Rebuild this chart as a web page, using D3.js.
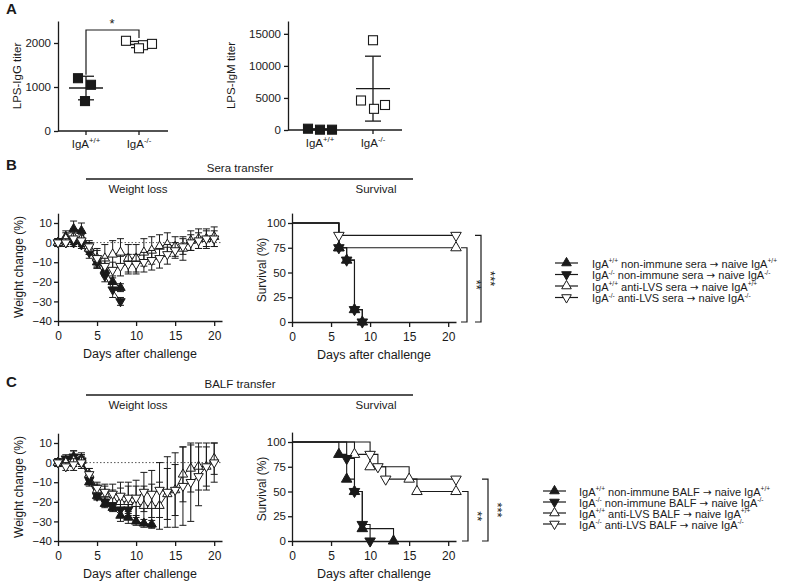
<!DOCTYPE html>
<html><head><meta charset="utf-8">
<script src="https://cdn.jsdelivr.net/npm/d3@7"></script>
<style>body{margin:0;background:#fff} text{font-family:"Liberation Sans",Arial,sans-serif;fill:#1a1a1a}</style>
</head><body><script>
// ---------------- DATA ----------------
const aGroups = ["IgA^{+/+}", "IgA^{-/-}"];
const lpsIgG_wt = [1200, 1050, 680];
const lpsIgG_ko = [2050, 1950, 1880, 1980];
const lpsIgM_wt = [200, 50, 50];
const lpsIgM_ko = [14000, 4600, 3300, 3900];
const igGTicks = [0, 1000, 2000];
const igMTicks = [0, 5000, 10000, 15000];
const dayTicks = [0, 5, 10, 15, 20];
const weightTicks = [10, 0, -10, -20, -30, -40];
const survTicks = [0, 25, 50, 75, 100];
const days = [0,1,2,3,4,5,6,7,8,9,10,11,12,13,14,15,16,17,18,19,20];

// Panel B weight (sera transfer)
const bWt_wtNon = [0, 3, 7, 6, -3, -10, -14, -20, -23];
const bSd_wtNon = [2, 3, 4, 4, 3, 3, 3, 3, 2];
const bWt_koNon = [0, 0, 0, -1, -5, -10, -17, -24, -30];
const bSd_koNon = [2, 2, 2, 2, 3, 3, 3, 4, 2];
const bWt_wtLVS = [0, 2, 3, 2, -3, -8, -8, -6, -5, -8, -8, -5, -4, -2, -1, -2, -3, 1, 2, 2, 3];
const bSd_wtLVS = [2, 3, 4, 4, 3, 5, 7, 7, 7, 7, 7, 7, 7, 6, 6, 5, 6, 5, 5, 5, 5];
const bWt_koLVS = [0, 0, 2, 1, -2, -8, -12, -14, -12, -11, -11, -10, -9, -8, -6, -4, -2, 0, 1, 2, 2];
const bSd_koLVS = [2, 2, 3, 3, 3, 4, 4, 4, 5, 5, 5, 5, 5, 5, 5, 4, 4, 4, 4, 4, 4];

// Panel B survival
const bSurvDays_wtNon = [0, 6, 7, 8, 9];
const bSurvPct_wtNon = [100, 75, 62.5, 12.5, 0];
const bSurvDays_koNon = [0, 6, 7, 8, 9];
const bSurvPct_koNon = [100, 75, 62.5, 12.5, 0];
const bSurvDays_wtLVS = [0, 6];
const bSurvPct_wtLVS = [100, 75];
const bSurvDays_koLVS = [0, 6];
const bSurvPct_koLVS = [100, 87.5];

// Panel C weight (BALF transfer)
const cWt_wtNon = [0, 1, 3, 2, -10, -17, -21, -23, -27, -28, -30, -31, -31.5];
const cSd_wtNon = [2, 2, 3, 3, 2, 2, 2, 2, 3, 3, 2, 2, 2];
const cWt_koNon = [0, 2, 3, 1, -9, -17, -20, -22, -24, -24];
const cSd_koNon = [2, 2, 3, 3, 2, 2, 2, 2, 3, 3];
const cWt_wtLVS = [0, 0, 1, 1, -6, -14, -16, -19, -20, -20, -21, -22, -22, -22, -16, -14, -6, -3, -2, -2, 2];
const cSd_wtLVS = [2, 2, 3, 3, 3, 3, 4, 5, 7, 8, 9, 10, 11, 12, 13, 13, 14, 12, 12, 10, 8];
const cWt_koLVS = [0, -2, -1, 0, -6, -13, -15, -16, -17, -18, -18, -15, -16, -14, -15, -14, -12, -10, -7, -2, 0];
const cSd_koLVS = [2, 2, 3, 3, 3, 3, 4, 5, 7, 8, 9, 10, 12, 14, 18, 19, 20, 20, 15, 12, 10];

// Panel C survival
const cSurvDays_wtNon = [0, 6, 7, 8, 9, 13];
const cSurvPct_wtNon = [100, 87.5, 62.5, 50, 12.5, 0];
const cSurvDays_koNon = [0, 7, 8, 9, 10];
const cSurvPct_koNon = [100, 83.3, 50, 16.7, 0];
const cSurvDays_wtLVS = [0, 8, 10, 15, 16];
const cSurvPct_wtLVS = [100, 87.5, 75, 62.5, 50];
const cSurvDays_koLVS = [0, 10, 11, 12];
const cSurvPct_koLVS = [100, 87.5, 75, 62.5];
const survEndDay = 21;

const legendB = [
  "IgA^{+/+} non-immune sera \u2192 naive IgA^{+/+}",
  "IgA^{-/-} non-immune sera \u2192 naive IgA^{-/-}",
  "IgA^{+/+} anti-LVS sera \u2192 naive IgA^{+/+}",
  "IgA^{-/-} anti-LVS sera \u2192 naive IgA^{-/-}"];
const legendC = [
  "IgA^{+/+} non-immune BALF \u2192 naive IgA^{+/+}",
  "IgA^{-/-} non-immune BALF \u2192 naive IgA^{-/-}",
  "IgA^{+/+} anti-LVS BALF \u2192 naive IgA^{+/+}",
  "IgA^{-/-} anti-LVS BALF \u2192 naive IgA^{-/-}"];

// ---------------- DRAWING ----------------
const INK = "#1a1a1a";
const svg = d3.select("body").append("svg").attr("width", 800).attr("height", 585);

function richText(g, x, y, str, size, anchor, supScale, supShift) {
  const ss = supScale || 0.68, sh = supShift || 0.38;
  const t = g.append("text").attr("x", x).attr("y", y).attr("font-size", size)
    .attr("text-anchor", anchor || "start").attr("dominant-baseline", "middle");
  const parts = str.split(/(\^\{[^}]*\}|\u2192)/).filter(s => s.length);
  let up = false;
  parts.forEach(p => {
    if (p.startsWith("^{")) {
      t.append("tspan").attr("font-size", size * ss).attr("dy", -size * sh).text(p.slice(2, -1));
      up = true;
    } else {
      const ts = t.append("tspan").text(p);
      if (p === "\u2192") ts.attr("font-family", "DejaVu Sans").attr("font-size", size * 0.95);
      if (up) { ts.attr("dy", size * sh); up = false; }
    }
  });
  return t;
}

function styleAxis(sel, fs) {
  sel.selectAll("path.domain").attr("stroke", INK).attr("stroke-width", 1.3);
  sel.selectAll(".tick line").attr("stroke", INK).attr("stroke-width", 1.3);
  sel.selectAll(".tick text").attr("font-size", fs || 11.5).attr("fill", INK)
     .attr("font-family", "Liberation Sans, Arial, sans-serif");
}

const symUp = d3.symbol().type(d3.symbolTriangle);
function marker(g, x, y, type, size) {
  const filled = type === "fu" || type === "fd";
  const down = type === "fd" || type === "od";
  g.append("path").attr("d", symUp.size(size)())
    .attr("transform", `translate(${x},${y})` + (down ? " rotate(180)" : ""))
    .attr("fill", filled ? INK : "#fff").attr("stroke", INK).attr("stroke-width", 1);
}

function panelLetter(x, y, s) {
  svg.append("text").attr("x", x).attr("y", y).attr("font-size", 15).attr("font-weight", "bold")
    .attr("dominant-baseline", "middle").text(s);
}

// ----- Panel A -----
panelLetter(6, 10, "A");

function scatterPanel(opts) {
  const g = svg.append("g");
  const y = d3.scaleLinear().domain([0, opts.ymax]).range([opts.y0, opts.ytop]);
  const ya = g.append("g").attr("transform", `translate(${opts.x0},0)`)
    .call(d3.axisLeft(y).tickValues(opts.ticks).tickSize(4).tickPadding(3).tickSizeOuter(0).tickFormat(d3.format("d")));
  styleAxis(ya, 11.5);
  g.append("line").attr("x1", opts.x0).attr("x2", opts.x1).attr("y1", opts.y0).attr("y2", opts.y0)
    .attr("stroke", INK).attr("stroke-width", 1.3);
  aGroups.forEach((k, i) => {
    const cx = opts.cx[i];
    g.append("line").attr("x1", cx).attr("x2", cx).attr("y1", opts.y0).attr("y2", opts.y0 + 4)
      .attr("stroke", INK).attr("stroke-width", 1.3);
    richText(g, cx, opts.y0 + 14, k, 11.5, "middle");
  });
  g.append("text").attr("transform", `translate(${opts.titleX},${(opts.y0 + opts.ytop) / 2}) rotate(-90)`)
    .attr("text-anchor", "middle").attr("dominant-baseline", "middle").attr("font-size", 11.5).text(opts.title);
  [opts.wt, opts.ko].forEach((vals, gi) => {
    const cx = opts.cx[gi];
    const m = d3.mean(vals), sd = d3.deviation(vals);
    g.append("line").attr("x1", cx - 17).attr("x2", cx + 17).attr("y1", y(m)).attr("y2", y(m)).attr("stroke", INK).attr("stroke-width", 1.4);
    g.append("line").attr("x1", cx).attr("x2", cx).attr("y1", y(m + sd)).attr("y2", y(Math.max(m - sd, 0))).attr("stroke", INK).attr("stroke-width", 1.3);
    [m + sd, m - sd].forEach(v => g.append("line").attr("x1", cx - 8).attr("x2", cx + 8).attr("y1", y(v)).attr("y2", y(v)).attr("stroke", INK).attr("stroke-width", 1.3));
    const offs = opts.jit[gi];
    vals.forEach((v, i) => {
      g.append("rect").attr("x", cx + offs[i] - 4.5).attr("y", y(v) - 4.5).attr("width", 9).attr("height", 9)
        .attr("fill", gi === 0 ? INK : "#fff").attr("stroke", INK).attr("stroke-width", 1.1);
    });
  });
  return { g, y, cx: opts.cx };
}

const aL = scatterPanel({ x0: 58, x1: 168, y0: 131, ytop: 21, ymax: 2500, ticks: igGTicks, cx: [86, 139],
  wt: lpsIgG_wt, ko: lpsIgG_ko, jit: [[-8, 5, -1], [-13, 4, 0, 13]], title: "LPS-IgG titer", titleX: 18 });
aL.g.append("path").attr("d", `M86,${aL.y(1280)} V30 H139 V38`).attr("fill", "none").attr("stroke", INK).attr("stroke-width", 1.2);
aL.g.append("text").attr("x", 112).attr("y", 25).attr("text-anchor", "middle").attr("dominant-baseline", "middle").attr("font-size", 13).text("*");

scatterPanel({ x0: 288, x1: 402, y0: 130, ytop: 21, ymax: 17000, ticks: igMTicks, cx: [320, 373],
  wt: lpsIgM_wt, ko: lpsIgM_ko, jit: [[-12, 0, 12], [0, -12, 1, 12]], title: "LPS-IgM titer", titleX: 232 });

// ----- Section headers -----
function header(yLine, title) {
  svg.append("text").attr("x", 240).attr("y", yLine - 10).attr("text-anchor", "middle").attr("dominant-baseline", "middle").attr("font-size", 11.5).text(title);
  svg.append("line").attr("x1", 86).attr("x2", 413).attr("y1", yLine).attr("y2", yLine).attr("stroke", INK).attr("stroke-width", 1.5);
  svg.append("text").attr("x", 138).attr("y", yLine + 11).attr("text-anchor", "middle").attr("dominant-baseline", "middle").attr("font-size", 11.5).text("Weight loss");
  svg.append("text").attr("x", 376).attr("y", yLine + 11).attr("text-anchor", "middle").attr("dominant-baseline", "middle").attr("font-size", 11.5).text("Survival");
}
panelLetter(6, 166, "B");
header(179, "Sera transfer");
panelLetter(6, 383, "C");
header(395, "BALF transfer");

// ----- Weight charts -----
function weightChart(y0, series) {
  const g = svg.append("g");
  const x = d3.scaleLinear().domain([0, 21]).range([58, 222]);
  const y = d3.scaleLinear().domain([-40, 15]).range([y0, y0 - 55 * 1.96]);
  g.append("line").attr("x1", 58).attr("x2", 222).attr("y1", y(0)).attr("y2", y(0))
    .attr("stroke", "#555").attr("stroke-width", 1).attr("stroke-dasharray", "1.5,2");
  const ya = g.append("g").attr("transform", "translate(58,0)")
    .call(d3.axisLeft(y).tickValues(weightTicks).tickSize(4).tickPadding(2).tickSizeOuter(0));
  styleAxis(ya, 11.5);
  const xa = g.append("g").attr("transform", `translate(0,${y0})`)
    .call(d3.axisBottom(x).tickValues(dayTicks).tickSize(5).tickPadding(5).tickSizeOuter(0));
  styleAxis(xa, 12);
  g.append("text").attr("transform", `translate(20,${y0 - 54}) rotate(-90)`).attr("text-anchor", "middle")
    .attr("dominant-baseline", "middle").attr("font-size", 12).text("Weight change (%)");
  g.append("text").attr("x", 140).attr("y", y0 + 34).attr("text-anchor", "middle")
    .attr("dominant-baseline", "middle").attr("font-size", 12.5).text("Days after challenge");
  series.forEach(s => {
    const pts = s.m.map((v, i) => [x(days[i]), y(v)]);
    g.append("path").attr("d", d3.line()(pts)).attr("fill", "none").attr("stroke", INK).attr("stroke-width", 1);
    s.m.forEach((v, i) => {
      const xx = x(days[i]);
      g.append("line").attr("x1", xx).attr("x2", xx).attr("y1", y(v - s.sd[i])).attr("y2", y(v + s.sd[i])).attr("stroke", INK).attr("stroke-width", 1);
      [v - s.sd[i], v + s.sd[i]].forEach(e => g.append("line").attr("x1", xx - 3.5).attr("x2", xx + 3.5).attr("y1", y(e)).attr("y2", y(e)).attr("stroke", INK).attr("stroke-width", 1));
    });
    s.m.forEach((v, i) => marker(g, x(days[i]), y(v), s.type, 38));
  });
}
weightChart(321, [
  { m: bWt_wtNon, sd: bSd_wtNon, type: "fu" },
  { m: bWt_koNon, sd: bSd_koNon, type: "fd" },
  { m: bWt_wtLVS, sd: bSd_wtLVS, type: "ou" },
  { m: bWt_koLVS, sd: bSd_koLVS, type: "od" }]);
weightChart(541, [
  { m: cWt_wtNon, sd: cSd_wtNon, type: "fu" },
  { m: cWt_koNon, sd: cSd_koNon, type: "fd" },
  { m: cWt_wtLVS, sd: cSd_wtLVS, type: "ou" },
  { m: cWt_koLVS, sd: cSd_koLVS, type: "od" }]);

// ----- Survival charts -----
function survChart(y0, series, brackets) {
  const g = svg.append("g");
  const x = d3.scaleLinear().domain([0, 21]).range([292, 456]);
  const y = d3.scaleLinear().domain([0, 110]).range([y0, y0 - 110 * 0.99]);
  const ya = g.append("g").attr("transform", "translate(292,0)")
    .call(d3.axisLeft(y).tickValues(survTicks).tickSize(4).tickPadding(2).tickSizeOuter(0));
  styleAxis(ya, 11.5);
  const xa = g.append("g").attr("transform", `translate(0,${y0})`)
    .call(d3.axisBottom(x).tickValues(dayTicks).tickSize(5).tickPadding(5).tickSizeOuter(0));
  styleAxis(xa, 12);
  g.append("text").attr("transform", `translate(263,${y0 - 52}) rotate(-90)`).attr("text-anchor", "middle")
    .attr("dominant-baseline", "middle").attr("font-size", 12).text("Survival (%)");
  g.append("text").attr("x", 374).attr("y", y0 + 34).attr("text-anchor", "middle")
    .attr("dominant-baseline", "middle").attr("font-size", 12.5).text("Days after challenge");
  series.forEach(s => {
    const pts = [];
    s.d.forEach((dd, i) => {
      if (i > 0) pts.push([x(dd), y(s.p[i - 1])]);
      pts.push([x(dd), y(s.p[i])]);
    });
    const last = s.p[s.p.length - 1];
    if (last > 0) pts.push([x(survEndDay), y(last)]);
    g.append("path").attr("d", d3.line()(pts)).attr("fill", "none").attr("stroke", INK).attr("stroke-width", 1.1);
  });
  [2, 3, 0, 1].forEach(k => {
    const s = series[k];
    s.d.forEach((dd, i) => { if (i > 0) marker(g, x(dd), y(s.p[i]), s.type, 48); });
    const last = s.p[s.p.length - 1];
    if (last > 0) marker(g, x(survEndDay), y(last), s.type, 48);
  });
  brackets.forEach(b => {
    g.append("path").attr("d", `M${b.x - 6},${y(b.top)} H${b.x} V${y(0)} H${b.x - 6}`)
      .attr("fill", "none").attr("stroke", INK).attr("stroke-width", 1.2);
    g.append("text").attr("transform", `translate(${b.x + 8},${(y(b.top) + y(0)) / 2}) rotate(90)`)
      .attr("text-anchor", "middle").attr("dominant-baseline", "middle").attr("font-size", 13)
      .attr("fill", INK).text(b.label);
  });
}
survChart(322, [
  { d: bSurvDays_wtNon, p: bSurvPct_wtNon, type: "fu" },
  { d: bSurvDays_koNon, p: bSurvPct_koNon, type: "fd" },
  { d: bSurvDays_wtLVS, p: bSurvPct_wtLVS, type: "ou" },
  { d: bSurvDays_koLVS, p: bSurvPct_koLVS, type: "od" }],
  [{ x: 467, top: 75, label: "**" }, { x: 481, top: 87.5, label: "***" }]);
survChart(541, [
  { d: cSurvDays_wtNon, p: cSurvPct_wtNon, type: "fu" },
  { d: cSurvDays_koNon, p: cSurvPct_koNon, type: "fd" },
  { d: cSurvDays_wtLVS, p: cSurvPct_wtLVS, type: "ou" },
  { d: cSurvDays_koLVS, p: cSurvPct_koLVS, type: "od" }],
  [{ x: 468, top: 50, label: "**" }, { x: 488, top: 62.5, label: "***" }]);

// ----- Legends -----
function legend(x0, x1, tx, ys, labels) {
  const types = ["fu", "fd", "ou", "od"];
  labels.forEach((lab, i) => {
    svg.append("line").attr("x1", x0).attr("x2", x1).attr("y1", ys[i]).attr("y2", ys[i]).attr("stroke", INK).attr("stroke-width", 1.2);
    marker(svg, (x0 + x1) / 2, ys[i], types[i], 40);
    richText(svg, tx, ys[i] + 1.5, lab, 11, "start", 0.6, 0.3);
  });
}
legend(555, 578, 592, [263, 274.5, 286, 297.5], legendB);
legend(543, 566, 579, [491, 502, 513, 524], legendC);
</script></body></html>
